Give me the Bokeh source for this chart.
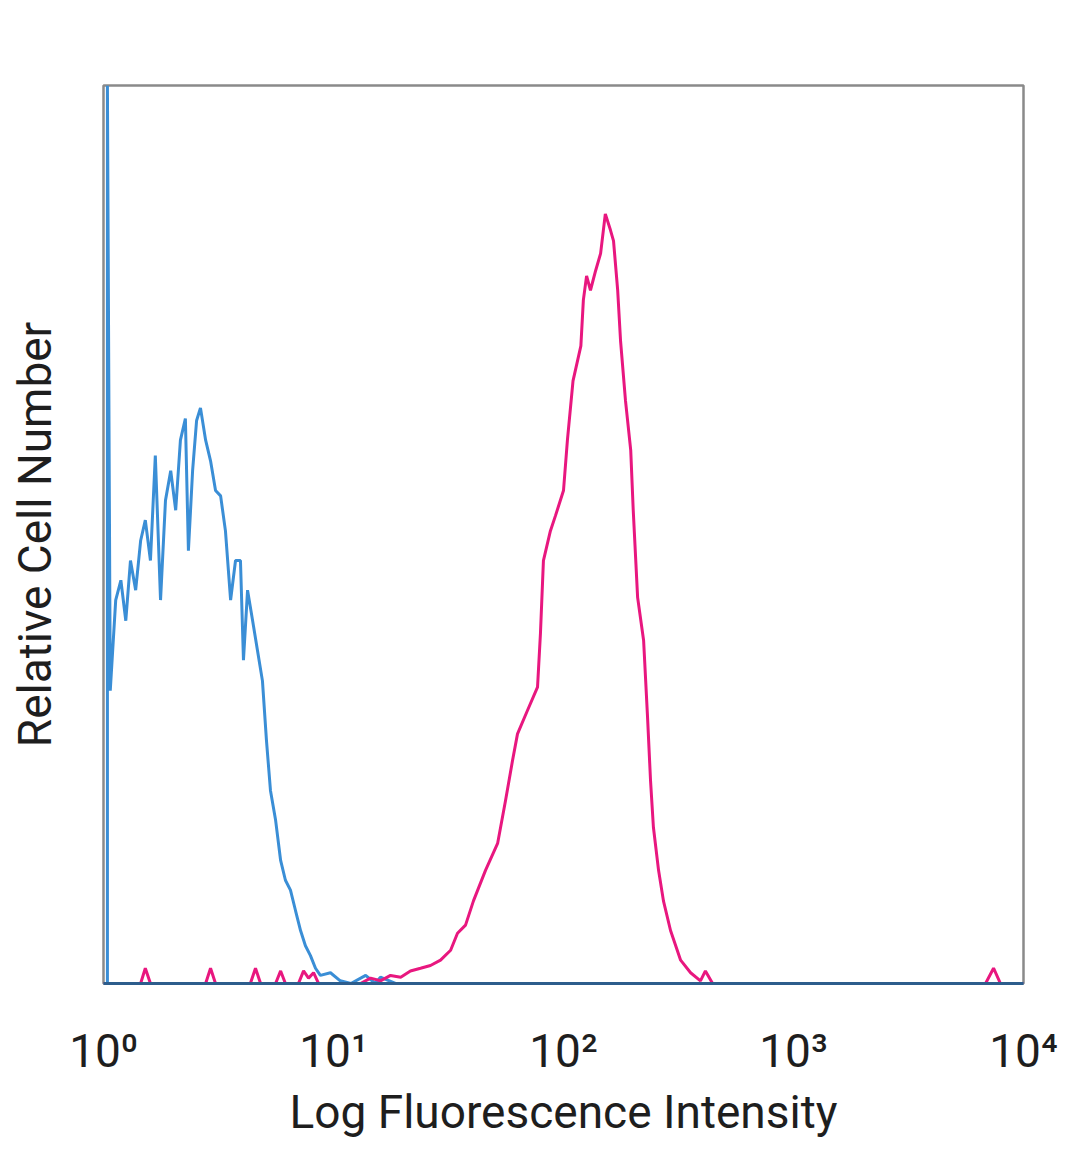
from bokeh.plotting import figure
from bokeh.models import Range1d, FixedTicker
from bokeh.embed import file_html
from bokeh.resources import INLINE

# Blue histogram (control): intensity, relative count
blue_x = [1.04, 1.04, 1.07, 1.13, 1.19, 1.25, 1.31, 1.38, 1.45, 1.52, 1.60, 1.68, 1.77,
          1.86, 1.96, 2.06, 2.16, 2.27, 2.34, 2.44, 2.54, 2.64, 2.78, 2.92, 3.07,
          3.23, 3.39, 3.57, 3.75, 3.94, 4.06, 4.23, 4.45, 4.67, 4.91, 5.11, 5.32,
          5.60, 5.89, 6.18, 6.50, 6.84, 7.19, 7.55, 7.94, 8.35, 8.77, 9.70, 10.7,
          11.9, 13.8, 15.2, 16.0, 18.6, 10000]
blue_y = [0, 100, 32.6, 42.7, 44.9, 40.4, 47.1, 43.8, 49.3, 51.6, 47.1, 58.8, 42.7,
          53.8, 57.1, 52.7, 60.5, 62.9, 48.2, 57.1, 62.7, 64.1, 60.5, 58.2, 54.9,
          54.3, 50.4, 42.7, 47.1, 47.1, 36.0, 43.8, 40.4, 37.1, 33.7, 27.1, 21.5,
          18.2, 13.7, 11.5, 10.4, 8.1, 5.9, 4.2, 3.1, 1.7, 0.9, 1.2, 0.3,
          0, 0.9, 0, 0.7, 0, 0]

# Pink histogram (stained sample): intensity, relative count
pink_x = [1.0, 1.45, 1.52, 1.60, 2.78, 2.92, 3.07, 4.35, 4.58, 4.82, 5.60, 5.89, 6.18,
          7.04, 7.41, 7.79, 8.19, 8.61, 13.1, 14.5, 16.0, 17.7, 19.6, 21.6, 23.9,
          26.4, 29.2, 32.3, 34.6, 37.5, 40.6, 45.8, 51.7, 56.0, 60.0, 63.1, 69.7,
          77.1, 79.4, 81.8, 87.7, 92.3, 100, 104, 110, 119, 122, 126, 131, 138,
          145, 152, 160, 165, 172, 177, 186, 196, 201, 210, 223, 232, 239, 246,
          259, 272, 292, 323, 357, 394, 414, 445, 6840, 7410, 7940, 10000]
pink_y = [0, 0, 1.7, 0, 0, 1.7, 0, 0, 1.7, 0, 0, 1.4, 0,
          0, 1.4, 0.6, 1.2, 0, 0, 0.6, 0.3, 0.9, 0.7, 1.4, 1.7,
          2.0, 2.6, 3.7, 5.6, 6.5, 9.2, 12.6, 15.6, 20.4, 24.8, 27.8, 30.4,
          33.0, 39.0, 47.1, 50.4, 52.1, 54.9, 60.5, 67.1, 71.0, 76.1, 78.8, 77.2, 79.4,
          81.3, 85.7, 83.9, 82.7, 77.2, 71.6, 64.9, 59.4, 52.7, 43.0, 38.2, 29.6, 22.6, 17.4,
          12.6, 9.2, 5.9, 2.6, 1.2, 0.3, 1.4, 0, 0, 1.7, 0, 0]

tick_values = [1, 10, 100, 1000, 10000]
tick_labels = ["10\u2070", "10\u00b9", "10\u00b2", "10\u00b3", "10\u2074"]
x_title = "Log Fluorescence Intensity"
y_title = "Relative Cell Number"

FONT = "Roboto"
TXT = "#1e1e1e"

p = figure(width=1070, height=1158, x_axis_type="log",
           x_range=Range1d(1, 10000), y_range=Range1d(0, 100),
           output_backend="svg", toolbar_location=None,
           min_border_left=103, min_border_right=47,
           min_border_top=85, min_border_bottom=175)
p.xgrid.visible = False
p.ygrid.visible = False
p.outline_line_color = "#8a8a8a"
p.outline_line_width = 2.5
p.background_fill_color = "white"
p.border_fill_color = "white"

p.line(blue_x, blue_y, line_color="#3a8ed6", line_width=3)
p.line(pink_x, pink_y, line_color="#e8177f", line_width=3)

xa = p.xaxis[0]
xa.ticker = FixedTicker(ticks=tick_values, minor_ticks=[])
xa.major_label_overrides = {v: t for v, t in zip(tick_values, tick_labels)}
xa.major_label_text_font = FONT
xa.major_label_text_font_size = "46px"
xa.major_label_text_color = TXT
xa.major_label_standoff = 40
xa.major_tick_out = 0
xa.major_tick_in = 0
xa.minor_tick_out = 0
xa.minor_tick_in = 0
xa.axis_line_color = "#2d5d8c"
xa.axis_line_width = 3
xa.axis_label = x_title
xa.axis_label_text_font = FONT
xa.axis_label_text_font_style = "normal"
xa.axis_label_text_font_size = "46px"
xa.axis_label_text_color = TXT
xa.axis_label_standoff = 4

ya = p.yaxis[0]
ya.ticker = FixedTicker(ticks=[50], minor_ticks=[])
ya.major_label_overrides = {50: ""}
ya.major_label_standoff = 0
ya.major_tick_out = 0
ya.major_tick_in = 0
ya.minor_tick_out = 0
ya.minor_tick_in = 0
ya.axis_line_color = None
ya.axis_label = y_title
ya.axis_label_text_font = FONT
ya.axis_label_text_font_style = "normal"
ya.axis_label_text_font_size = "46px"
ya.axis_label_text_color = TXT
ya.axis_label_standoff = 42

open("out.html", "w").write(file_html(p, INLINE))
